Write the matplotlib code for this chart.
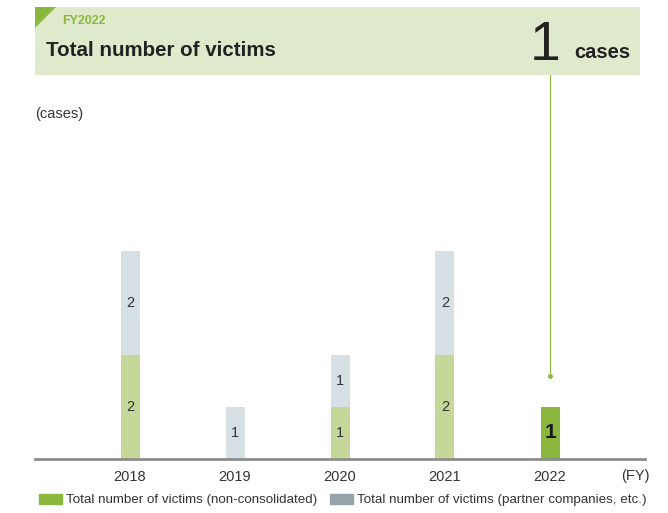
import matplotlib
matplotlib.use("Agg")
import matplotlib.pyplot as plt
from matplotlib.patches import Rectangle, Polygon
import numpy as np

plt.rcParams['font.family'] = ['Liberation Sans', 'DejaVu Sans']

# data
years = ['2018', '2019', '2020', '2021', '2022']
non_consolidated = [2, 0, 1, 2, 1]
partner = [2, 1, 1, 2, 0]
highlight_year = '2022'
highlight_value = 1

green_light = '#c5d89a'
green_dark = '#8ab83f'
grey_light = '#d6dfe3'
grey_legend = '#95a3a8'
header_bg = '#dfe9cb'

W, H = 668, 513
fig = plt.figure(figsize=(W / 100, H / 100), dpi=100)


def fx(px):
    return px / W


def fy(py):
    return 1 - py / H


# header box
fig.patches.append(Rectangle((fx(35), fy(75)), fx(640) - fx(35), fy(7) - fy(75),
                             transform=fig.transFigure, facecolor=header_bg, edgecolor='none', zorder=0))
fig.patches.append(Polygon([(fx(35), fy(7)), (fx(56), fy(7)), (fx(35), fy(28))], closed=True,
                           transform=fig.transFigure, facecolor=green_dark, edgecolor='none', zorder=1))
fig.text(fx(62), fy(21), 'FY' + highlight_year, color=green_dark, fontsize=9, fontweight='bold', va='center')
fig.text(fx(46), fy(51), 'Total number of victims', color='#222222', fontsize=14.8, fontweight='bold', va='center')
fig.text(fx(561), fy(46), str(highlight_value), color='#222222', fontsize=40, ha='right', va='center')
fig.text(fx(574), fy(53), 'cases', color='#222222', fontsize=14.5, fontweight='bold', va='center')

# chart axes: baseline at px 459, bar centres every 105 px starting at 130
x0, x1, ybase, ytop = 35, 645, 459, 80
unit = 52
ax = fig.add_axes([fx(x0), fy(ybase), fx(x1) - fx(x0), fy(ytop) - fy(ybase)])
ax.set_xlim((x0 - 130) / 105, (x1 - 130) / 105)
ax.set_ylim(0, (ybase - ytop) / unit)

x = np.arange(len(years))
nc = np.array(non_consolidated)
pt = np.array(partner)
hi = years.index(highlight_year)
bw = 19 / 105

colors_nc = [green_dark if i == hi else green_light for i in range(len(years))]
ax.bar(x, nc, width=bw, color=colors_nc, zorder=2)
ax.bar(x, pt, bottom=nc, width=bw, color=grey_light, zorder=2)

for i in range(len(years)):
    if nc[i] > 0:
        if i == hi:
            ax.text(x[i], nc[i] / 2, str(nc[i]), ha='center', va='center', fontsize=15,
                    fontweight='bold', color='#1a1a1a')
        else:
            ax.text(x[i], nc[i] / 2, str(nc[i]), ha='center', va='center', fontsize=10.5, color='#333333')
    if pt[i] > 0:
        ax.text(x[i], nc[i] + pt[i] / 2, str(pt[i]), ha='center', va='center', fontsize=10.5, color='#333333')

# connector line from header bottom to highlighted bar
line_end = nc[hi] + 0.6
header_bottom = (ybase - 75) / unit
ax.plot([x[hi], x[hi]], [line_end, header_bottom], color=green_dark, lw=0.8, clip_on=False, zorder=1)
ax.plot([x[hi]], [line_end], marker='o', ms=2.5, color=green_dark, zorder=3)

for s in ['top', 'right', 'left']:
    ax.spines[s].set_visible(False)
ax.spines['bottom'].set_color('#8c8c8c')
ax.spines['bottom'].set_linewidth(2)
ax.set_yticks([])
ax.set_xticks(x)
ax.set_xticklabels(years, fontsize=10.5, color='#333333')
ax.tick_params(axis='x', length=0, pad=8)
ax.patch.set_alpha(0)

fig.text(fx(621), fy(476), '(FY)', fontsize=10.5, color='#333333', va='center')
fig.text(fx(35), fy(114), '(cases)', fontsize=10.5, color='#333333', va='center')

# legend
handles = [Rectangle((0, 0), 1, 1, color=green_dark), Rectangle((0, 0), 1, 1, color=grey_legend)]
labels = ['Total number of victims (non-consolidated)', 'Total number of victims (partner companies, etc.)']
fig.legend(handles, labels, loc='center left', bbox_to_anchor=(fx(27), fy(500)), ncol=2, frameon=False,
           fontsize=9.6, handlelength=1.7, handleheight=0.8, handletextpad=0.3, columnspacing=1.0,
           labelcolor='#333333')

fig.savefig('out.png', dpi=100)
